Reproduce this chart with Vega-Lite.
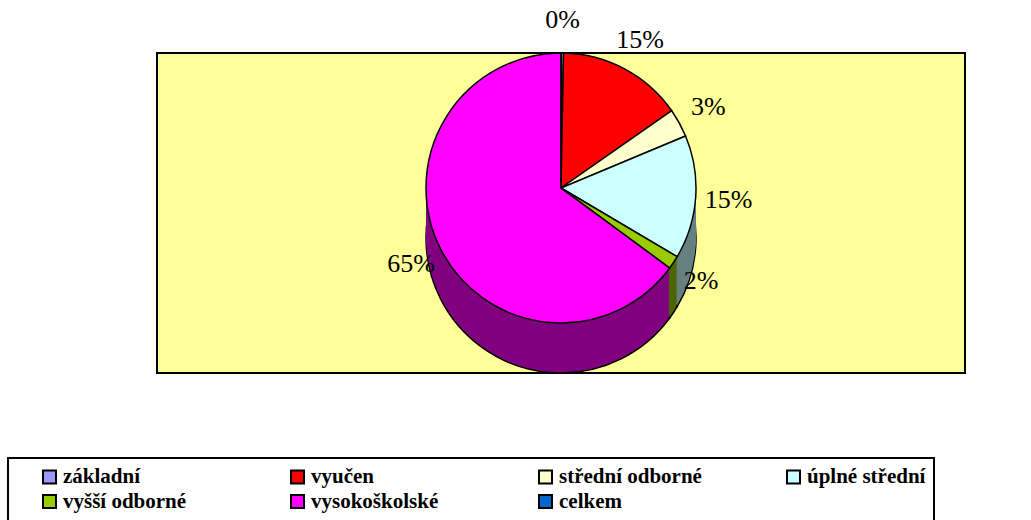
{
  "$schema": "https://vega.github.io/schema/vega-lite/v6.json",
  "width": 808,
  "height": 320,
  "autosize": {"type": "none"},
  "padding": {"left": 157, "top": 53, "right": 66, "bottom": 147},
  "background": "white",
  "view": {"fill": "#FFFF99", "stroke": "black", "strokeWidth": 2},
  "data": {
    "values": [
      {"idx": 1, "category": "základní", "share": 0.003},
      {"idx": 2, "category": "vyučen", "share": 0.150},
      {"idx": 3, "category": "střední odborné", "share": 0.034},
      {"idx": 4, "category": "úplné střední", "share": 0.148},
      {"idx": 5, "category": "vyšší odborné", "share": 0.016},
      {"idx": 6, "category": "vysokoškolské", "share": 0.649},
      {"idx": 7, "category": "celkem", "share": 0}
    ]
  },
  "encoding": {
    "theta": {"field": "share", "type": "quantitative", "stack": true},
    "order": {"field": "idx", "type": "quantitative"}
  },
  "layer": [
    {
      "mark": {"type": "arc", "radius": 135, "yOffset": 25, "stroke": "black", "strokeWidth": 1.5},
      "encoding": {"fill": {"field": "idx", "type": "nominal",
        "scale": {"domain": [1, 2, 3, 4, 5, 6, 7],
                  "range": ["#4D4D80", "#800000", "#808066", "#668080", "#4D6600", "#800080", "#003366"]},
        "legend": null}}
    },
    {"mark": {"type": "arc", "radius": 135, "yOffset": 22.5}, "encoding": {"fill": {"field": "idx", "type": "nominal", "legend": null}}},
    {"mark": {"type": "arc", "radius": 135, "yOffset": 20}, "encoding": {"fill": {"field": "idx", "type": "nominal", "legend": null}}},
    {"mark": {"type": "arc", "radius": 135, "yOffset": 17.5}, "encoding": {"fill": {"field": "idx", "type": "nominal", "legend": null}}},
    {"mark": {"type": "arc", "radius": 135, "yOffset": 15}, "encoding": {"fill": {"field": "idx", "type": "nominal", "legend": null}}},
    {"mark": {"type": "arc", "radius": 135, "yOffset": 12.5}, "encoding": {"fill": {"field": "idx", "type": "nominal", "legend": null}}},
    {"mark": {"type": "arc", "radius": 135, "yOffset": 10}, "encoding": {"fill": {"field": "idx", "type": "nominal", "legend": null}}},
    {"mark": {"type": "arc", "radius": 135, "yOffset": 7.5}, "encoding": {"fill": {"field": "idx", "type": "nominal", "legend": null}}},
    {"mark": {"type": "arc", "radius": 135, "yOffset": 5}, "encoding": {"fill": {"field": "idx", "type": "nominal", "legend": null}}},
    {"mark": {"type": "arc", "radius": 135, "yOffset": 2.5}, "encoding": {"fill": {"field": "idx", "type": "nominal", "legend": null}}},
    {"mark": {"type": "arc", "radius": 135, "yOffset": 0}, "encoding": {"fill": {"field": "idx", "type": "nominal", "legend": null}}},
    {"mark": {"type": "arc", "radius": 135, "yOffset": -2.5}, "encoding": {"fill": {"field": "idx", "type": "nominal", "legend": null}}},
    {"mark": {"type": "arc", "radius": 135, "yOffset": -5}, "encoding": {"fill": {"field": "idx", "type": "nominal", "legend": null}}},
    {"mark": {"type": "arc", "radius": 135, "yOffset": -7.5}, "encoding": {"fill": {"field": "idx", "type": "nominal", "legend": null}}},
    {"mark": {"type": "arc", "radius": 135, "yOffset": -10}, "encoding": {"fill": {"field": "idx", "type": "nominal", "legend": null}}},
    {"mark": {"type": "arc", "radius": 135, "yOffset": -12.5}, "encoding": {"fill": {"field": "idx", "type": "nominal", "legend": null}}},
    {"mark": {"type": "arc", "radius": 135, "yOffset": -15}, "encoding": {"fill": {"field": "idx", "type": "nominal", "legend": null}}},
    {"mark": {"type": "arc", "radius": 135, "yOffset": -17.5}, "encoding": {"fill": {"field": "idx", "type": "nominal", "legend": null}}},
    {"mark": {"type": "arc", "radius": 135, "yOffset": -20}, "encoding": {"fill": {"field": "idx", "type": "nominal", "legend": null}}},
    {"mark": {"type": "arc", "radius": 135, "yOffset": -22.5}, "encoding": {"fill": {"field": "idx", "type": "nominal", "legend": null}}},
    {
      "mark": {"type": "arc", "radius": 135, "yOffset": -25, "stroke": "black", "strokeWidth": 1.5},
      "encoding": {"color": {"field": "category", "type": "nominal",
        "scale": {"domain": ["základní", "vyučen", "střední odborné", "úplné střední", "vyšší odborné", "vysokoškolské", "celkem"],
                  "range": ["#9999FF", "#FF0000", "#FFFFCC", "#CCFFFF", "#99CC00", "#FF00FF", "#0066CC"]},
        "legend": {
          "title": " ",
          "titleOrient": "left",
          "titlePadding": 23,
          "titleFontSize": 19,
          "orient": "none",
          "legendX": -149,
          "legendY": 405,
          "direction": "horizontal",
          "columns": 4,
          "gridAlign": "all",
          "columnPadding": 80,
          "rowPadding": 2,
          "symbolType": "square",
          "symbolSize": 170,
          "symbolStrokeColor": "black",
          "symbolStrokeWidth": 2,
          "labelFont": "'Liberation Serif', 'Times New Roman', Times, serif",
          "labelFontSize": 21,
          "labelFontWeight": "bold",
          "labelColor": "black",
          "labelOffset": 3,
          "labelLimit": 400,
          "fillColor": "white",
          "strokeColor": "black",
          "padding": 8
        }}}
    },
    {
      "transform": [{"filter": "datum.category != 'celkem'"}],
      "mark": {"type": "text", "radius": 168, "yOffset": -25, "font": "'Liberation Serif', 'Times New Roman', Times, serif", "fontSize": 26, "color": "black"},
      "encoding": {"text": {"field": "share", "type": "quantitative", "format": ".0%"}}
    }
  ],
  "config": {
    "font": "'Liberation Serif', 'Times New Roman', Times, serif",
    "legend": {"strokeWidth": 2}
  }
}
